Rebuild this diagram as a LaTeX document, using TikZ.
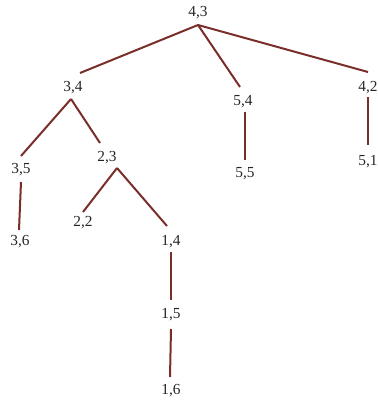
\documentclass[tikz,border=0pt]{standalone}
\usepackage{fontspec}
\setmainfont{Liberation Serif}
\usetikzlibrary{positioning}
\definecolor{ink}{HTML}{262626}
\definecolor{branch}{HTML}{7A2E2A}
\tikzset{
  pair/.style={font=\fontsize{11.5}{13}\selectfont, text=ink, inner sep=0pt},
  edge/.style={draw=branch, line width=1.5pt},
}
% label digits / centre x / centre y (pixels)
\def\treeNodes{4/3/198/13, 3/4/73/88, 5/4/243/102, 4/2/368/88, 3/5/21/170, 2/3/107/158, 5/5/245/174, 5/1/368/162, 3/6/20/242, 2/2/83/223, 1/4/171/242, 1/5/171/315, 1/6/171/391}
% parent / child / start shift / end shift
\def\treeEdges{43/34/0/12/7/-15, 43/54/0/12/-3/-15, 43/42/0/12/0/-16, 34/35/-2/11/0/-14, 34/23/-2/11/-7/-15, 54/55/2/10/0/-14, 42/51/0/9/0/-17, 35/36/0/12/-1/-12, 23/22/10/10/0/-11, 23/14/10/10/-4/-16, 14/15/0/10/0/-15, 15/16/0/14/-1/-14}
\begin{document}
\begin{tikzpicture}[x=0.75pt, y=-0.75pt]
  \useasboundingbox (0,0) rectangle (378,403);
  \foreach \a/\b/\x/\y in \treeNodes {
    \node[pair] (n\a\b) at (\x,\y) {\a,\b};
  }
  \foreach \p/\c/\sx/\sy/\ex/\ey in \treeEdges {
    \draw[edge] ([shift={(\sx,\sy)}]n\p.center) -- ([shift={(\ex,\ey)}]n\c.center);
  }
\end{tikzpicture}
\end{document}
